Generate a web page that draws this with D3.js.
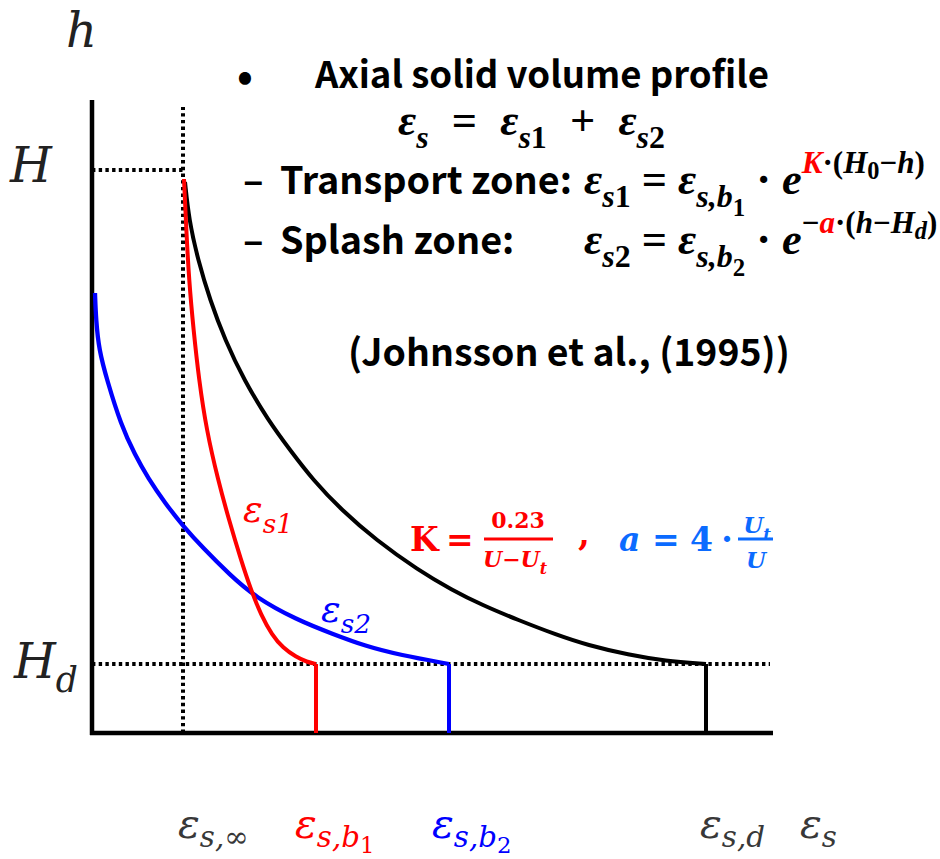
<!DOCTYPE html>
<html><head><meta charset="utf-8">
<script src="https://cdn.jsdelivr.net/npm/d3@7"></script>
<style>html,body{margin:0;padding:0;background:#fff;}svg{display:block;}text{white-space:pre;}</style>
</head><body>
<svg id="c" width="940" height="859"></svg>
<script>
// ---------------- data ----------------
// solid volume fraction (x) and height h (m, schematic)
const xMarkNames  = ["s,∞", "s,b", "s,b", "s,d"];
const xMarkSubs   = ["", "1", "2", ""];
const xMarkValues = [0.091, 0.224, 0.357, 0.614];
const hMarkNames  = ["H", "H"];
const hMarkSubs   = ["", "d"];
const hMarkValues = [5.63, 0.69];
const xAxisMax = 0.681;
const hAxisMax = 6.33;

// transport zone profile εs1
const eps1Curve = [[0.092,5.54],[0.0943,5.03],[0.097,4.53],[0.1015,4.03],[0.107,3.53],[0.1145,3.03],[0.126,2.53],[0.137,2.13],[0.149,1.73],[0.159,1.43],[0.169,1.18],[0.180,0.98],[0.191,0.85],[0.204,0.76],[0.215,0.71],[0.224,0.69]];
// splash zone profile εs2
const eps2Curve = [[0.003,4.40],[0.004,4.13],[0.007,3.83],[0.015,3.53],[0.029,3.08],[0.043,2.78],[0.056,2.55],[0.073,2.30],[0.091,2.07],[0.111,1.85],[0.138,1.58],[0.163,1.36],[0.205,1.13],[0.241,0.99],[0.273,0.87],[0.308,0.78],[0.357,0.69]];
// total profile εs
const epsCurve = [[0.093,5.51],[0.097,5.13],[0.106,4.73],[0.118,4.33],[0.133,3.93],[0.152,3.53],[0.176,3.13],[0.198,2.83],[0.221,2.53],[0.2495,2.23],[0.284,1.93],[0.326,1.63],[0.360,1.43],[0.390,1.28],[0.426,1.13],[0.465,0.98],[0.495,0.88],[0.537,0.78],[0.573,0.72],[0.614,0.69]];

const RED = "#ff0000", BLUE = "#0000ff", LBLUE = "#0b6bff", GREY = "#383838";
const xMarkColors = [GREY, RED, BLUE, GREY];

// ---------------- setup ----------------
const svg = d3.select("#c");
const x = d3.scaleLinear().domain([0, xAxisMax]).range([92, 773]);
const y = d3.scaleLinear().domain([0, hAxisMax]).range([733, 100]);

const SANS = "'Noto Sans CJK KR','Noto Sans',sans-serif";
const SERIF = "'DejaVu Serif',serif";
const MSERIF = "'Liberation Serif','DejaVu Serif',serif";

const LV = {b:{o:0,s:1}, s:{o:0.30,s:0.72}, ss:{o:0.50,s:0.56}, p:{o:-0.48,s:0.7}, ps:{o:-0.34,s:0.55},
            S:{o:0.22,s:0.72}, SS:{o:0.37,s:0.56}};
function rich(parent, px, py, parts, size, attrs) {
  const t = parent.append("text").attr("x", px).attr("y", py).attr("font-size", size);
  Object.entries(attrs || {}).forEach(([k, v]) => t.attr(k, v));
  let cur = 0;
  parts.forEach(p => {
    const lv = LV[p[1] || "b"];
    const off = lv.o * size;
    const ts = t.append("tspan").text(p[0]).attr("font-size", lv.s * size).attr("dy", off - cur);
    const o = p[2] || {};
    if (o.c) ts.attr("fill", o.c);
    if (o.u) ts.attr("font-style", "normal");
    cur = off;
  });
  return t;
}
function measure(parts, size, attrs) {
  const t = rich(svg, 0, -100, parts, size, attrs);
  const w = t.node().getBBox().width;
  t.remove();
  return w;
}
function fitSize(parts, width, attrs) { return 40 * width / measure(parts, 40, attrs); }

// ---------------- axes & guides ----------------
const guides = svg.append("g").attr("fill", "none");
const dotted = {stroke: "#000", "stroke-width": 4, "stroke-dasharray": "3.4,3.3"};
function seg(a, b, style) {
  const l = guides.append("line").attr("x1", a[0]).attr("y1", a[1]).attr("x2", b[0]).attr("y2", b[1]);
  Object.entries(style).forEach(([k, v]) => l.attr(k, v));
}
// dotted: vertical at εs,∞, horizontal at H and Hd
seg([x(xMarkValues[0]), y(0)], [x(xMarkValues[0]), y(6.26)], dotted);
seg([x(0), y(hMarkValues[0])], [x(xMarkValues[0]), y(hMarkValues[0])], dotted);
seg([x(0), y(hMarkValues[1])], [x(0.678), y(hMarkValues[1])], dotted);

// axes
seg([x(0), y(hAxisMax)], [x(0), y(0) + 2], {stroke: "#000", "stroke-width": 4.5});
seg([x(0) - 2, y(0)], [x(xAxisMax), y(0)], {stroke: "#000", "stroke-width": 4.5});

// vertical drops from Hd to the axis
const dropColors = ["#000", RED, BLUE, "#000"];
[1, 2, 3].forEach(i => seg([x(xMarkValues[i]), y(0)], [x(xMarkValues[i]), y(hMarkValues[1])], {stroke: dropColors[i], "stroke-width": 4}));

// ---------------- curves ----------------
const line = d3.line().x(d => x(d[0])).y(d => y(d[1])).curve(d3.curveBasis);
svg.append("path").datum(epsCurve).attr("d", line).attr("fill", "none").attr("stroke", "#000").attr("stroke-width", 4);
svg.append("path").datum(eps2Curve).attr("d", line).attr("fill", "none").attr("stroke", BLUE).attr("stroke-width", 4.3);
svg.append("path").datum(eps1Curve).attr("d", line).attr("fill", "none").attr("stroke", RED).attr("stroke-width", 4);

// ---------------- axis labels ----------------
const thin = {"font-family": SERIF, "font-style": "italic"};
const xLabelNudge = [-5, -21, -17, -6];
const bottomSize = fitSize([["ε"], ["s,d", "S"]], 65, thin);
xMarkValues.forEach((v, i) => {
  const parts = [["ε"], [xMarkNames[i], "S"]];
  if (xMarkSubs[i]) parts.push([xMarkSubs[i], "SS", {u: 1}]);
  rich(svg, x(v) + xLabelNudge[i], 838, parts, bottomSize, Object.assign({fill: xMarkColors[i]}, thin));
});
rich(svg, 800, 838, [["ε"], ["s", "S"]], bottomSize, Object.assign({fill: GREY}, thin));

rich(svg, 66, 47, [["h"]], 48, Object.assign({fill: "#222"}, thin));
rich(svg, 10, y(hMarkValues[0]) + 12, [[hMarkNames[0]]], 48, Object.assign({fill: "#222"}, thin));
rich(svg, 14, y(hMarkValues[1]) + 14, [[hMarkNames[1]], [hMarkSubs[1], "s"]], 48, Object.assign({fill: "#222"}, thin));

// curve labels
rich(svg, 243, 522, [["ε"], ["s1", "s"]], bottomSize * 0.9, Object.assign({fill: RED}, thin));
rich(svg, 321, 622, [["ε"], ["s2", "s"]], bottomSize * 0.9, Object.assign({fill: BLUE}, thin));

// ---------------- annotation text ----------------
const bold = {"font-family": SANS, "font-weight": 700, fill: "#000"};
svg.append("text").attr("x", 245).attr("y", 91).attr("text-anchor", "middle").attr("font-size", 42).attr("font-family", SANS).attr("font-weight", 700).text("•");
const t1 = [["Axial solid volume profile"]];
rich(svg, 315, 88, t1, fitSize(t1, 455, bold), bold);
const tz = [["Transport zone:"]];
const sansSize = fitSize(tz, 292, bold);
svg.append("text").attr("x", 243).attr("y", 194).attr("font-size", sansSize).attr("font-family", SANS).attr("font-weight", 700).text("–");
rich(svg, 280, 194, tz, sansSize, bold);
svg.append("text").attr("x", 243).attr("y", 254).attr("font-size", sansSize).attr("font-family", SANS).attr("font-weight", 700).text("–");
rich(svg, 280, 254, [["Splash zone:"]], sansSize, bold);
const jt = [["(Johnsson et al., (1995))"]];
rich(svg, 348, 366, jt, fitSize(jt, 442, bold), bold);

const mb = {"font-family": MSERIF, "font-style": "italic", "font-weight": 700, fill: "#000"};
const f2 = [["ε"], ["s", "s"], ["1", "s", {u: 1}], [" = ", "b", {u: 1}], ["ε"], ["s,b", "s"], ["1", "ss", {u: 1}], [" · ", "b", {u: 1}], ["e"],
            ["K", "p", {c: RED}], ["·(", "p", {u: 1}], ["H", "p"], ["0", "ps", {u: 1}], ["−", "p", {u: 1}], ["h", "p"], [")", "p", {u: 1}]];
const f3 = [["ε"], ["s", "s"], ["2", "s", {u: 1}], [" = ", "b", {u: 1}], ["ε"], ["s,b", "s"], ["2", "ss", {u: 1}], [" · ", "b", {u: 1}], ["e"],
            ["−", "p", {u: 1}], ["a", "p", {c: RED}], ["·(", "p", {u: 1}], ["h", "p"], ["−", "p", {u: 1}], ["H", "p"], ["d", "ps"], [")", "p", {u: 1}]];
const f1 = [["ε"], ["s", "s"], [" = ", "b", {u: 1}], ["ε"], ["s", "s"], ["1", "s", {u: 1}], [" + ", "b", {u: 1}], ["ε"], ["s", "s"], ["2", "s", {u: 1}]];
const mathSize = fitSize(f2, 341, mb);
const f1Gap = Math.max(0, (267 - measure(f1, mathSize, mb)) / 4);
rich(svg, 398, 135, f1, mathSize, Object.assign({"word-spacing": f1Gap}, mb));
rich(svg, 584, 194, f2, mathSize, mb);
rich(svg, 584, 254, f3, mathSize, mb);

// ---------------- K and a expressions ----------------
const kb = {"font-family": SERIF, "font-weight": 700};
rich(svg, 410, 551, [["K"]], 33, Object.assign({fill: RED}, kb));
rich(svg, 446, 551, [["="]], 33, Object.assign({fill: RED}, kb));
rich(svg, 518, 528, [["0.23"]], 22, Object.assign({fill: RED, "text-anchor": "middle"}, kb));
svg.append("line").attr("x1", 484).attr("x2", 553).attr("y1", 539).attr("y2", 539).attr("stroke", RED).attr("stroke-width", 3);
rich(svg, 515, 567, [["U", "b"], ["−", "b", {u: 1}], ["U", "b"], ["t", "s"]], 22, Object.assign({fill: RED, "text-anchor": "middle", "font-style": "italic"}, kb));
rich(svg, 578, 545, [[","]], 34, Object.assign({fill: RED}, kb));

rich(svg, 619, 551, [["a"]], 33, Object.assign({fill: LBLUE, "font-style": "italic"}, kb));
rich(svg, 652, 551, [["="]], 33, Object.assign({fill: LBLUE}, kb));
rich(svg, 690, 551, [["4"]], 33, Object.assign({fill: LBLUE}, kb));
rich(svg, 727, 551, [["·"]], 33, Object.assign({fill: LBLUE, "text-anchor": "middle"}, kb));
svg.append("line").attr("x1", 738).attr("x2", 773).attr("y1", 539).attr("y2", 539).attr("stroke", LBLUE).attr("stroke-width", 3);
rich(svg, 757, 533, [["U", "b"], ["t", "s"]], 23, Object.assign({fill: LBLUE, "text-anchor": "middle", "font-style": "italic"}, kb));
rich(svg, 756, 568, [["U"]], 23, Object.assign({fill: LBLUE, "text-anchor": "middle", "font-style": "italic"}, kb));
</script>
</body></html>
